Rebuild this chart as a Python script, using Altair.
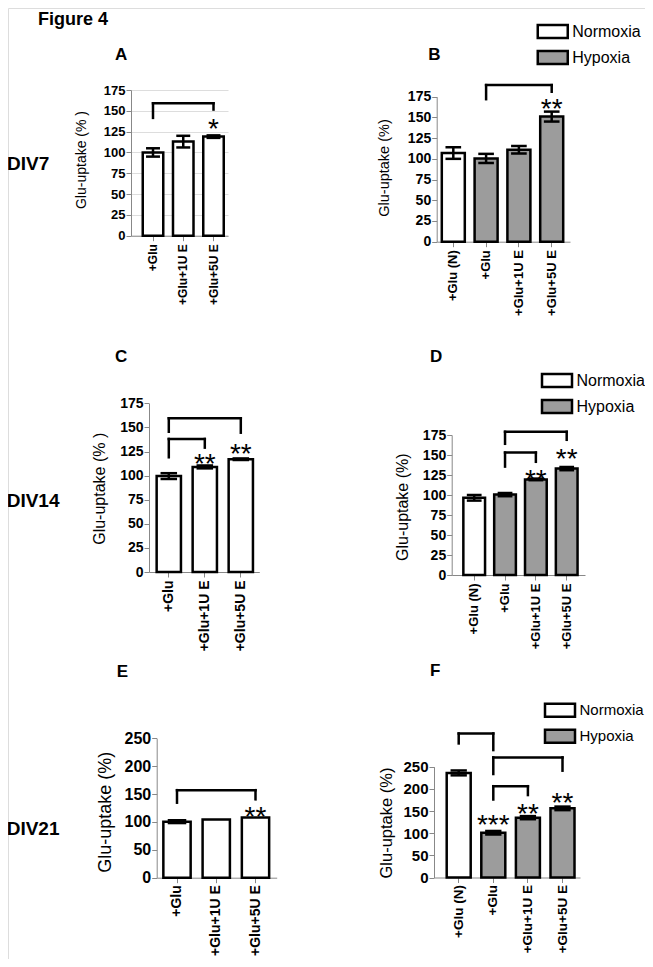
import altair as alt
import pandas as pd

FONT = "Liberation Sans"
GRAY = "#9c9c9c"
OX = OY = 8          # page margin
W, H = 637, 951      # drawing area

# ---------------- data ----------------
cats3 = ["+Glu", "+Glu+1U E", "+Glu+5U E"]
cats4 = ["+Glu (N)", "+Glu", "+Glu+1U E", "+Glu+5U E"]
cond3 = ["Normoxia", "Normoxia", "Normoxia"]
cond4 = ["Normoxia", "Hypoxia", "Hypoxia", "Hypoxia"]
legend_labels = ["Normoxia", "Hypoxia"]

a_mean = [100, 113, 119]
a_err = [5, 7, 1.5]
b_mean = [107, 100.5, 111, 151]
b_err = [7, 5.5, 4.5, 6]
c_mean = [99.5, 109, 117]
c_err = [3, 1.5, 0.8]
d_mean = [96.5, 100.5, 119.5, 133]
d_err = [3.5, 2, 1, 2]
e_mean = [100.5, 104.5, 108]
e_err = [2.5, 0, 0]
f_mean = [236, 101, 135, 156]
f_err = [5.5, 4, 3.5, 4]

# brackets: (from, to, left leg bottom, right leg bottom, top)
a_br = [("+Glu", "+Glu+5U E", 141.5, 151.5, 159)]
b_br = [("+Glu", "+Glu+5U E", 172, 181, 189)]
c_br = [("+Glu", "+Glu+5U E", 145.5, 144.5, 159.5),
        ("+Glu", "+Glu+1U E", 119, 129, 138)]
d_br = [("+Glu", "+Glu+5U E", 164, 169, 179),
        ("+Glu", "+Glu+1U E", 135.5, 141.5, 153)]
e_br = [("+Glu", "+Glu+5U E", 134.5, 140.5, 157)]
f_br = [("+Glu (N)", "+Glu", 302.5, 287.5, 325),
        ("+Glu", "+Glu+5U E", 233.5, 241, 271),
        ("+Glu", "+Glu+1U E", 176, 186, 206)]

# significance stars: (category, text, level)
a_st = [("+Glu+5U E", "*", 136)]
b_st = [("+Glu+5U E", "**", 168)]
c_st = [("+Glu+1U E", "**", 119), ("+Glu+5U E", "**", 129.5)]
d_st = [("+Glu+1U E", "**", 128), ("+Glu+5U E", "**", 154)]
e_st = [("+Glu+5U E", "**", 122)]
f_st = [("+Glu", "***", 134), ("+Glu+1U E", "**", 158), ("+Glu+5U E", "**", 183)]

ticks175 = [0, 25, 50, 75, 100, 125, 150, 175]
ticks250 = [0, 50, 100, 150, 200, 250]

# ---------------- layout (page pixels) ----------------
LA = dict(ax=131, xend=228, y0=235.7, ytop=90, ymax=175, c0=153, cN=213.5, bw=20.5,
          tfs=13, xfs=12, xlp=3, title="Glu-uptake (% )", ttfs=14, tcx=81.7, tcy=159.5,
          ticks=ticks175)
LB = dict(ax=436.7, xend=570, y0=241.7, ytop=96.7, ymax=175, c0=453.3, cN=551.7, bw=23,
          tfs=14, xfs=13, xlp=3, title="Glu-uptake (%)", ttfs=14.5, tcx=384.2, tcy=167.5,
          ticks=ticks175, lx=536.25, ly=30, lfs=16)
LC = dict(ax=149, xend=259.3, y0=572, ytop=403.3, ymax=175, c0=168.8, cN=240.8, bw=24.3,
          tfs=14, xfs=14, xlp=3, title="Glu-uptake (% )", ttfs=16, tcx=99.2, tcy=488.3,
          ticks=ticks175)
LD = dict(ax=451.7, xend=585, y0=575, ytop=435, ymax=175, c0=474.2, cN=566.7, bw=21.7,
          tfs=14, xfs=13, xlp=3, title="Glu-uptake (%)", ttfs=16, tcx=402.5, tcy=506.7,
          ticks=ticks175, lx=540.5, ly=379, lfs=16)
LE = dict(ax=156.7, xend=276.7, y0=877.7, ytop=738.3, ymax=250, c0=177, cN=255.5, bw=27.3,
          tfs=16, xfs=14, xlp=2, title="Glu-uptake (%)", ttfs=18, tcx=105.8, tcy=811.7,
          ticks=ticks250)
LF = dict(ax=434, xend=580, y0=877.5, ytop=766.7, ymax=250, c0=458.7, cN=562.5, bw=24,
          tfs=15, xfs=13.5, xlp=2, title="Glu-uptake (%)", ttfs=16.5, tcx=386.7, tcy=822.5,
          ticks=ticks250, lx=543.5, ly=708.8, lfs=15)

LW = 2.5
STAR_FS = 28
SYM_D = 22                    # legend entry symbol "diameter"
SYM_R = SYM_D / 2
BOX = "M-{a},-{b}H{a}V{b}H-{a}Z".format(a=round(15 / SYM_R, 4), b=round(6.5 / SYM_R, 4))


def make_panel(cats, means, errs, conds, brackets, stars, L):
    n = len(cats)
    step = (L["cN"] - L["c0"]) / (n - 1)
    pin = 1 - L["bw"] / step
    left = L["c0"] - L["bw"] / 2 - L["ax"]
    right = L["xend"] - (L["cN"] + L["bw"] / 2)
    pout = (left + right) / (2 * step)
    align = left / (left + right)

    xscale = alt.Scale(domain=cats, range=[L["ax"] - OX, L["xend"] - OX],
                       paddingInner=pin, paddingOuter=pout, align=align)
    yscale = alt.Scale(domain=[0, L["ymax"]], range=[L["y0"] - OY, L["ytop"] - OY],
                       nice=False, zero=False)
    xaxis = alt.Axis(orient="bottom", offset=(L["y0"] - OY) - H, title=None,
                     labelAngle=-90, labelFontSize=L["xfs"], labelPadding=L["xlp"],
                     labelFont=FONT, labelFontWeight="bold", labelColor="black")
    yaxis = alt.Axis(orient="left", offset=-(L["ax"] - OX), values=L["ticks"],
                     title=L["title"], titleFontSize=L["ttfs"],
                     titleX=L["tcx"] - L["ax"], titleY=L["tcy"] - OY,
                     titleAngle=270, titleBaseline="middle", titleAlign="center",
                     titleFont=FONT, titleFontWeight="normal", titleColor="black",
                     labelFontSize=L["tfs"], labelPadding=1,
                     labelFont=FONT, labelFontWeight="bold", labelColor="black")

    def X(field):
        return alt.X(field, type="nominal", scale=xscale, axis=xaxis, sort=cats)

    def Y(field):
        return alt.Y(field, type="quantitative", scale=yscale, axis=yaxis)

    df = pd.DataFrame({
        "cat": cats,
        "mean": means,
        "lo": [m - e for m, e in zip(means, errs)],
        "hi": [m + e for m, e in zip(means, errs)],
        "cond": conds,
    })

    if "lx" in L:
        fill = alt.Fill("cond:N",
                        scale=alt.Scale(domain=legend_labels, range=["white", GRAY]),
                        legend=alt.Legend(orient="none",
                                          legendX=L["lx"] + 15 - SYM_R - OX,
                                          legendY=L["ly"] - SYM_R - OY, title=None,
                                          symbolType=BOX, symbolSize=SYM_D * SYM_D,
                                          symbolStrokeColor="black", symbolStrokeWidth=LW,
                                          symbolOpacity=1,
                                          labelFont=FONT, labelFontSize=L["lfs"],
                                          labelFontWeight="normal", labelColor="black",
                                          labelOffset=15 - SYM_R + 3, rowPadding=2, padding=0))
    else:
        fill = alt.value("white")

    bars = alt.Chart(df).mark_bar(stroke="black", strokeWidth=LW).encode(
        x=X("cat"), y=Y("mean"), fill=fill)
    err = alt.Chart(df).transform_filter("datum.hi > datum.lo").mark_rule(
        color="black", strokeWidth=LW).encode(x=X("cat"), y=Y("lo"), y2="hi:Q")
    capw = 0.68 * L["bw"]
    cap_lo = alt.Chart(df).transform_filter("datum.hi > datum.lo").mark_tick(
        orient="horizontal", size=capw, thickness=LW, color="black", opacity=1).encode(
        x=X("cat"), y=Y("lo"))
    cap_hi = alt.Chart(df).transform_filter("datum.hi > datum.lo").mark_tick(
        orient="horizontal", size=capw, thickness=LW, color="black", opacity=1).encode(
        x=X("cat"), y=Y("hi"))

    legs = pd.DataFrame({
        "cat": [b[0] for b in brackets] + [b[1] for b in brackets],
        "bottom": [b[2] for b in brackets] + [b[3] for b in brackets],
        "top": [b[4] for b in brackets] * 2,
    })
    tops = pd.DataFrame({
        "c1": [b[0] for b in brackets],
        "c2": [b[1] for b in brackets],
        "top": [b[4] for b in brackets],
    })
    legs_l = alt.Chart(legs).mark_rule(color="black", strokeWidth=LW, strokeCap="square").encode(
        x=X("cat"), y=Y("bottom"), y2="top:Q")
    tops_l = alt.Chart(tops).mark_rule(color="black", strokeWidth=LW, strokeCap="square").encode(
        x=X("c1"), x2=alt.X2("c2"), y=Y("top"))

    st = pd.DataFrame({
        "cat": [s[0] for s in stars],
        "txt": [s[1] for s in stars],
        "lvl": [s[2] for s in stars],
    })
    stars_l = alt.Chart(st).mark_text(font=FONT, fontSize=STAR_FS, baseline="alphabetic",
                                      dy=0.57 * STAR_FS, color="black").encode(
        x=X("cat"), y=Y("lvl"), text="txt:N")

    return alt.layer(bars, err, cap_lo, cap_hi, legs_l, tops_l, stars_l)


pA = make_panel(cats3, a_mean, a_err, cond3, a_br, a_st, LA)
pB = make_panel(cats4, b_mean, b_err, cond4, b_br, b_st, LB)
pC = make_panel(cats3, c_mean, c_err, cond3, c_br, c_st, LC)
pD = make_panel(cats4, d_mean, d_err, cond4, d_br, d_st, LD)
pE = make_panel(cats3, e_mean, e_err, cond3, e_br, e_st, LE)
pF = make_panel(cats4, f_mean, f_err, cond4, f_br, f_st, LF)

# ---------------- annotation texts ----------------
ann_text = ["Figure 4", "DIV7", "DIV14", "DIV21", "A", "B", "C", "D", "E", "F"]
ann_px = [38, 7, 6.7, 6.7, 115, 428.3, 115, 430, 116.7, 430]
ann_py = [25, 170, 506.7, 835, 60, 60, 361.7, 361.7, 676.7, 676]
ann_fs = [18, 19, 19, 19, 17, 17, 17, 17, 17, 17]
ann = pd.DataFrame({"t": ann_text,
                    "px": [v - OX for v in ann_px],
                    "py": [v - OY for v in ann_py],
                    "fs": ann_fs})
annot = alt.Chart(ann).mark_text(font=FONT, fontWeight="bold", align="left",
                                 baseline="alphabetic", color="black").encode(
    x=alt.X("px:Q", scale=None, axis=None),
    y=alt.Y("py:Q", scale=None, axis=None),
    size=alt.Size("fs:Q", scale=None, legend=None),
    text="t:N")

chart = alt.layer(pA, pB, pC, pD, pE, pF, annot).resolve_scale(
    x="independent", y="independent", fill="independent", size="independent"
).properties(
    width=W, height=H, padding=0,
    autosize=alt.AutoSizeParams(type="none"),
).configure_view(stroke=None).configure_axis(
    domainColor="black", domainWidth=LW, tickColor="black", tickWidth=LW, tickSize=6,
    labelColor="black", labelFont=FONT, labelFontWeight="bold",
    titleFont=FONT, titleColor="black", titleFontWeight="normal",
    grid=False, labelOverlap=False,
).configure(background="white")

chart.save("out.html", embed_options={"renderer": "svg", "actions": False})
